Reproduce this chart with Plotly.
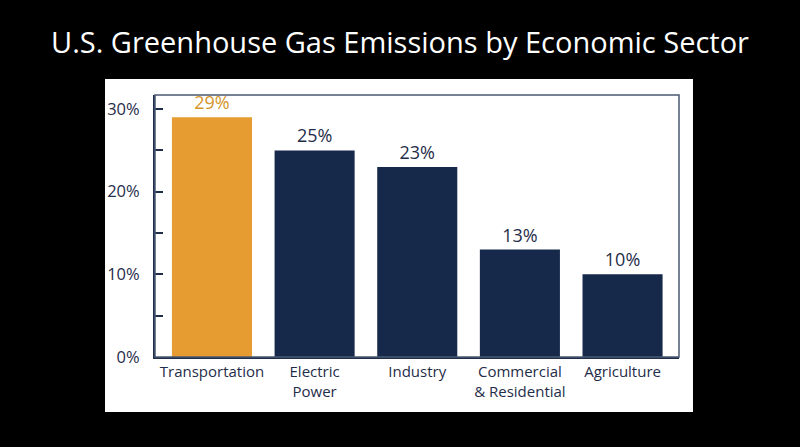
import plotly.graph_objects as go

sectors = ['Transportation', 'Electric<br>Power', 'Industry', 'Commercial<br>& Residential', 'Agriculture']
shares = [29, 25, 23, 13, 10]
bar_colors = ['#E69C31', '#17294A', '#17294A', '#17294A', '#17294A']
label_colors = ['#D4952C', '#1F2D4A', '#1F2D4A', '#1F2D4A', '#1F2D4A']
y_ticks = [0, 10, 20, 30]
y_tick_text = ['0%', '10%', '20%', '30%']

navy = '#1F2D4A'

fig = go.Figure()

fig.add_trace(go.Bar(
    x=list(range(len(sectors))),
    y=shares,
    marker=dict(color=bar_colors, line=dict(width=0)),
    text=[f'{v}%' for v in shares],
    textposition='outside',
    textfont=dict(color=label_colors, size=18, family='Open Sans'),
    cliponaxis=False,
    hovertemplate='<b>%{x}</b><br>%{y}%<extra></extra>'
))

fig.update_layout(
    title=dict(
        text='U.S. Greenhouse Gas Emissions by Economic Sector',
        x=0.5, xanchor='center', xref='container',
        y=0.905, yanchor='middle', yref='container',
        font=dict(family='Open Sans', size=29, color='white')
    ),
    width=800,
    height=447,
    margin=dict(l=155, r=121, t=95, b=90),
    paper_bgcolor='black',
    plot_bgcolor='white',
    font=dict(family='Open Sans', size=15, color=navy),
    bargap=0.22,
    showlegend=False,
    shapes=[
        # white panel behind the chart
        dict(type='rect', xref='paper', yref='paper',
             x0=-0.0954, x1=1.0267, y0=-0.21, y1=1.061,
             fillcolor='white', line=dict(width=0), layer='below'),
        # plot frame
        dict(type='rect', xref='paper', yref='paper',
             x0=0, x1=1, y0=0, y1=1,
             line=dict(color='#4A5A70', width=1.5), layer='above'),
    ]
)

fig.update_xaxes(
    tickmode='array',
    tickvals=list(range(len(sectors))),
    ticktext=sectors,
    range=[-0.555, 4.55],
    showgrid=False,
    showline=True,
    linewidth=2,
    linecolor=navy,
    ticks='',
    tickfont=dict(size=15, color=navy),
    zeroline=False
)

fig.update_yaxes(
    range=[0, 31.7],
    tickmode='array',
    tickvals=y_ticks,
    ticktext=y_tick_text,
    showgrid=False,
    showline=True,
    linewidth=2,
    linecolor=navy,
    ticks='inside',
    ticklen=8,
    tickwidth=1.5,
    tickcolor=navy,
    ticklabelstandoff=10,
    tickfont=dict(size=16.5, color=navy),
    minor=dict(tickvals=[5, 15, 25], ticks='inside', ticklen=8, tickwidth=1.5, tickcolor=navy),
    zeroline=False
)

# drop the default page margin so the figure sits at the window's corner
fig.write_html(
    "out.html",
    config={'displayModeBar': False},
    post_script="document.body.style.margin='0';document.body.style.background='black';"
)
